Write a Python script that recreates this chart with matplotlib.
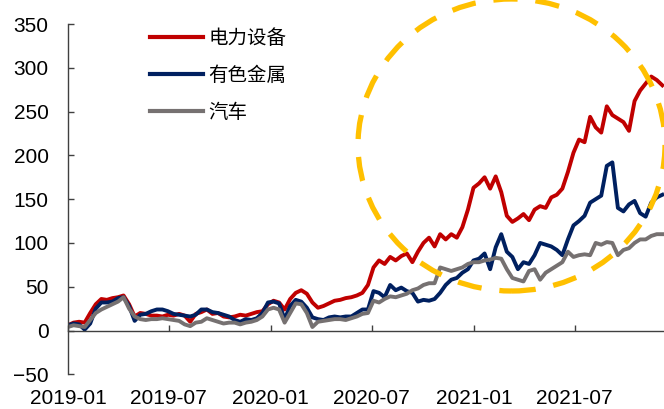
import matplotlib
matplotlib.use("Agg")
import matplotlib.pyplot as plt
import matplotlib.dates as mdates
from matplotlib.patches import Ellipse
import pandas as pd

plt.rcParams['font.family'] = ['Liberation Sans', 'Noto Sans CJK SC', 'DejaVu Sans']

# 10-day sampling of cumulative returns (%), starting 2019-01-01
dates = pd.date_range('2019-01-01', periods=108, freq='10D')

power_equipment = [
    6, 9, 10, 9, 20, 30, 36, 35, 37, 38, 40, 30, 16, 20, 19, 17, 17, 16, 18, 17,
    19, 17, 10, 19, 21, 24, 19, 20, 16, 15, 16, 18, 17, 19, 21, 22, 30, 34, 32, 24,
    36, 43, 46, 42, 32, 26, 28, 31, 34, 35, 37, 38, 40, 43, 52, 72, 80, 76, 84, 80,
    85, 88, 78, 90, 100, 106, 96, 110, 104, 110, 106, 118, 138, 163, 168, 175, 162, 176, 158, 131,
    124, 128, 133, 126, 138, 142, 140, 152, 155, 162, 181, 203, 218, 215, 244, 232, 226, 256, 246, 242,
    238, 228, 262, 274, 282, 290, 286, 280,
]
nonferrous_metals = [
    6, 8, 7, 1, 8, 25, 32, 32, 33, 37, 38, 28, 11, 18, 19, 22, 24, 24, 22, 19,
    18, 17, 16, 18, 24, 24, 21, 20, 18, 16, 12, 10, 13, 12, 14, 20, 32, 33, 31, 13,
    28, 35, 33, 26, 15, 13, 12, 15, 16, 15, 16, 16, 20, 24, 24, 45, 43, 38, 52, 46,
    49, 45, 43, 33, 35, 34, 36, 43, 52, 58, 60, 66, 70, 80, 82, 88, 70, 95, 110, 90,
    84, 70, 78, 76, 86, 100, 98, 96, 92, 86, 104, 120, 125, 131, 146, 150, 154, 188, 192, 140,
    136, 144, 148, 134, 130, 146, 152, 155,
]
automobile = [
    4, 6, 5, 4, 12, 20, 24, 27, 30, 33, 38, 25, 16, 13, 12, 13, 13, 14, 13, 12,
    11, 7, 5, 9, 10, 14, 12, 10, 8, 9, 9, 7, 9, 10, 12, 16, 24, 26, 24, 9,
    20, 31, 30, 20, 4, 10, 11, 12, 13, 13, 12, 14, 16, 19, 20, 34, 32, 36, 39, 38,
    40, 42, 46, 48, 52, 54, 54, 72, 70, 68, 70, 72, 76, 78, 78, 80, 81, 83, 82, 70,
    60, 58, 56, 68, 70, 58, 66, 70, 74, 78, 90, 84, 86, 87, 86, 100, 98, 101, 100, 86,
    92, 94, 100, 104, 104, 108, 110, 110,
]

series_names = ['电力设备', '有色金属', '汽车']
series_colors = ['#C00000', '#002060', '#767171']

tick_dates = pd.to_datetime(['2019-01-01', '2019-07-01', '2020-01-01',
                             '2020-07-01', '2021-01-01', '2021-07-01'])
y_ticks = [-50, 0, 50, 100, 150, 200, 250, 300, 350]

W, H = 664, 409
fig = plt.figure(figsize=(W / 100, H / 100), dpi=100)
ax = fig.add_axes([68 / W, 1 - 374.3 / H, 1 - 68 / W, (374.3 - 24) / H])

for vals, name, col in zip([power_equipment, nonferrous_metals, automobile],
                           series_names, series_colors):
    ax.plot(dates, vals, color=col, lw=2.8, label=name, solid_joinstyle='round')

ax.set_ylim(-50, 350)
ax.set_yticks(y_ticks)
ax.set_xlim(pd.Timestamp('2019-01-01'), pd.Timestamp('2021-12-09'))
ax.set_xticks(tick_dates)
ax.xaxis.set_major_formatter(mdates.DateFormatter('%Y-%m'))

for s in ['top', 'right']:
    ax.spines[s].set_visible(False)
ax.spines['bottom'].set_position(('data', 0))
for s in ['left', 'bottom']:
    ax.spines[s].set_color('#404040')
    ax.spines[s].set_linewidth(1.0)

ax.tick_params(axis='y', direction='in', length=4, width=1, color='#404040',
               labelsize=15, pad=14, labelcolor='#000000')
ax.tick_params(axis='x', direction='in', length=4, width=1, color='#404040',
               labelsize=15, pad=42, labelcolor='#000000')

leg = ax.legend(loc='upper left', bbox_to_anchor=(150 / W, 1 - 28 / H),
                bbox_transform=fig.transFigure, frameon=False,
                prop={'family': ['Noto Sans CJK SC'], 'size': 14},
                handlelength=2.75, handletextpad=0.25, labelspacing=0.82,
                borderpad=0, borderaxespad=0)
for line in leg.get_lines():
    line.set_linewidth(3)

# dashed highlight ring around the 2020H2-2021 rally
ring = Ellipse((511.5 / W, 1 - 145 / H), 307 / W, 292 / H,
               transform=fig.transFigure, fill=False, edgecolor='#FFC000',
               lw=3.8, linestyle=(0, (4.6, 3.4)), capstyle='butt',
               clip_on=False, zorder=10)
fig.add_artist(ring)

fig.savefig('out.png', dpi=100)
